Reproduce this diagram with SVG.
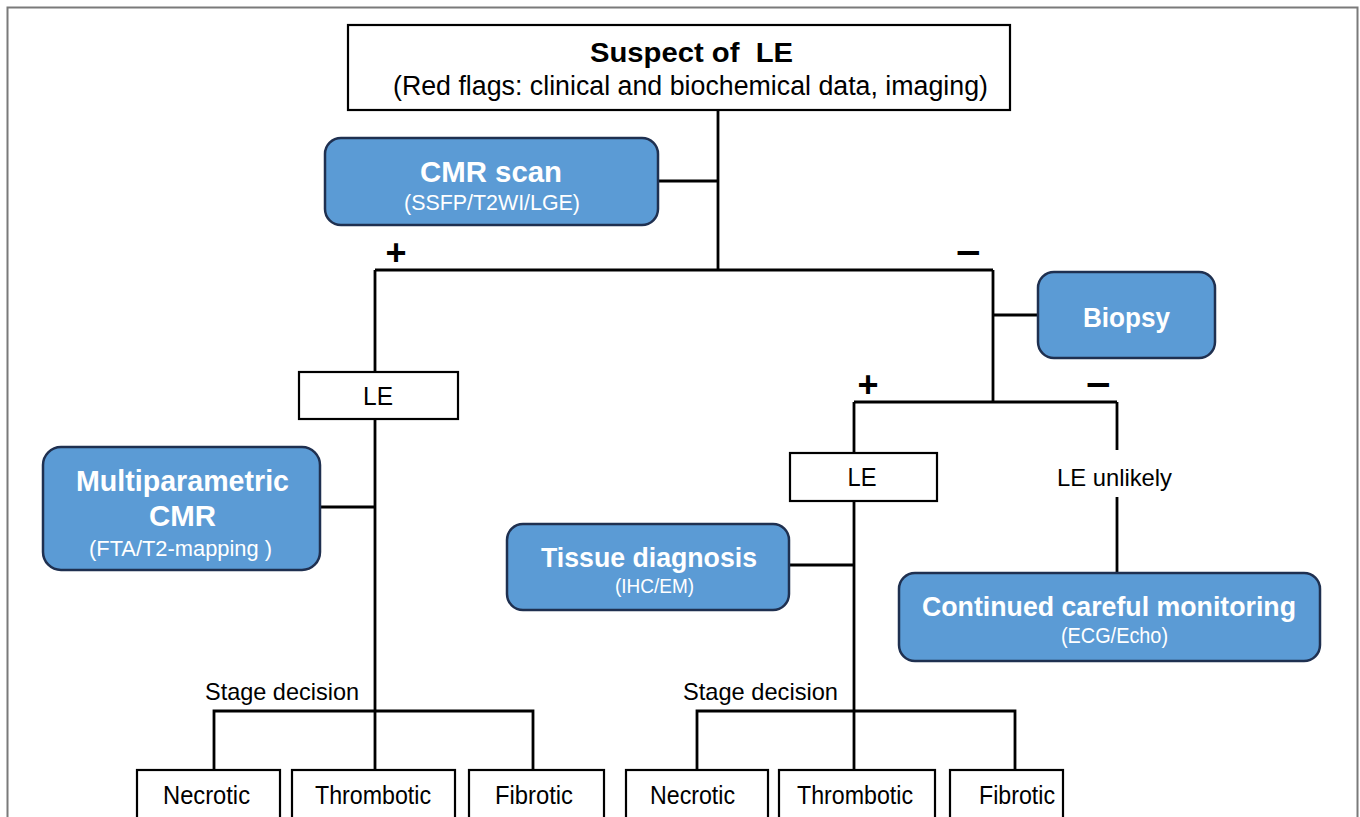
<svg xmlns="http://www.w3.org/2000/svg" width="1360" height="817" viewBox="0 0 1360 817">
<style>
text{font-family:"Liberation Sans",Arial,sans-serif;text-anchor:middle;fill:#000}
.wb{fill:#fff;stroke:#000;stroke-width:2.2}
.bl{fill:#5B9BD5;stroke:#1F3050;stroke-width:2.5}
.t{fill:#fff;font-weight:bold}
.s{fill:#fff}
.c{stroke:#000;stroke-width:2.8;fill:none}
.sg{font-size:36px;font-weight:bold}
</style>
<rect x="7.5" y="7.5" width="1350" height="830" fill="#fff" stroke="#7a7a7a" stroke-width="2"/>
<g id="connectors">
<path class="c" d="M718 110V270M658 181H718M375 270H993M375 270V372M375 419V770M320 507H375M214 770V711H533V770M993 270V402M993 315H1038M854 402H1117M854 402V453M854 501V770M789 565H854M697 770V711H1015V770M1117 402V450M1117 497V573"/>
</g>
<g id="top"><rect class="wb" x="348" y="25" width="662" height="85"/>
<text x="691.5" y="62" font-size="28" font-weight="bold" xml:space="preserve" textLength="203" lengthAdjust="spacingAndGlyphs">Suspect of  LE</text>
<text x="690.5" y="95" font-size="27" textLength="595" lengthAdjust="spacingAndGlyphs">(Red flags: clinical and biochemical data, imaging)</text></g>
<g id="cmr"><rect class="bl" x="325" y="138" width="333" height="87" rx="16"/>
<text class="t" x="491" y="182" font-size="30" textLength="142" lengthAdjust="spacingAndGlyphs">CMR scan</text>
<text class="s" x="492" y="210" font-size="22" textLength="176" lengthAdjust="spacingAndGlyphs">(SSFP/T2WI/LGE)</text></g>
<text class="sg" x="396" y="265">+</text>
<text class="sg" x="968" y="265" textLength="25" lengthAdjust="spacingAndGlyphs">−</text>
<g id="le1"><rect class="wb" x="299" y="372" width="159" height="47"/><text x="378" y="405" font-size="25" textLength="30" lengthAdjust="spacingAndGlyphs">LE</text></g>
<g id="mcmr"><rect class="bl" x="43" y="447" width="277" height="123" rx="18"/>
<text class="t" x="182.5" y="491" font-size="30" textLength="213" lengthAdjust="spacingAndGlyphs">Multiparametric</text>
<text class="t" x="182.5" y="526" font-size="30" textLength="67" lengthAdjust="spacingAndGlyphs">CMR</text>
<text class="s" x="180.5" y="556" font-size="22" textLength="183" lengthAdjust="spacingAndGlyphs">(FTA/T2-mapping )</text></g>
<text x="282" y="700" font-size="24" textLength="154" lengthAdjust="spacingAndGlyphs">Stage decision</text>
<g id="nec1"><rect class="wb" x="137" y="770" width="143" height="60"/><text x="206.5" y="804" font-size="25" textLength="87" lengthAdjust="spacingAndGlyphs">Necrotic</text></g>
<g id="thr1"><rect class="wb" x="292" y="770" width="163" height="60"/><text x="373" y="804" font-size="25" textLength="116" lengthAdjust="spacingAndGlyphs">Thrombotic</text></g>
<g id="fib1"><rect class="wb" x="469" y="770" width="135" height="60"/><text x="534" y="804" font-size="25" textLength="78" lengthAdjust="spacingAndGlyphs">Fibrotic</text></g>
<g id="biopsy"><rect class="bl" x="1038" y="272" width="177" height="86" rx="16"/>
<text class="t" x="1126.5" y="327" font-size="28" textLength="87" lengthAdjust="spacingAndGlyphs">Biopsy</text></g>
<text class="sg" x="868" y="397">+</text>
<text class="sg" x="1098" y="397" textLength="25" lengthAdjust="spacingAndGlyphs">−</text>
<g id="le2"><rect class="wb" x="790" y="453" width="147" height="48"/><text x="862" y="486" font-size="25" textLength="29" lengthAdjust="spacingAndGlyphs">LE</text></g>
<text x="1114.5" y="486" font-size="24" textLength="115" lengthAdjust="spacingAndGlyphs">LE unlikely</text>
<g id="tissue"><rect class="bl" x="507" y="524" width="282" height="86" rx="16"/>
<text class="t" x="649" y="567" font-size="28" textLength="216" lengthAdjust="spacingAndGlyphs">Tissue diagnosis</text>
<text class="s" x="654.5" y="593" font-size="21" textLength="79" lengthAdjust="spacingAndGlyphs">(IHC/EM)</text></g>
<g id="monitor"><rect class="bl" x="899" y="573" width="421" height="88" rx="16"/>
<text class="t" x="1109" y="616" font-size="28" textLength="374" lengthAdjust="spacingAndGlyphs">Continued careful monitoring</text>
<text class="s" x="1114.5" y="643" font-size="22" textLength="107" lengthAdjust="spacingAndGlyphs">(ECG/Echo)</text></g>
<text x="760.5" y="700" font-size="24" textLength="155" lengthAdjust="spacingAndGlyphs">Stage decision</text>
<g id="nec2"><rect class="wb" x="626" y="770" width="142" height="60"/><text x="692.5" y="804" font-size="25" textLength="85" lengthAdjust="spacingAndGlyphs">Necrotic</text></g>
<g id="thr2"><rect class="wb" x="779" y="770" width="156" height="60"/><text x="855" y="804" font-size="25" textLength="116" lengthAdjust="spacingAndGlyphs">Thrombotic</text></g>
<g id="fib2"><rect class="wb" x="950" y="770" width="113" height="60"/><text x="1017" y="804" font-size="25" textLength="76" lengthAdjust="spacingAndGlyphs">Fibrotic</text></g>
</svg>
